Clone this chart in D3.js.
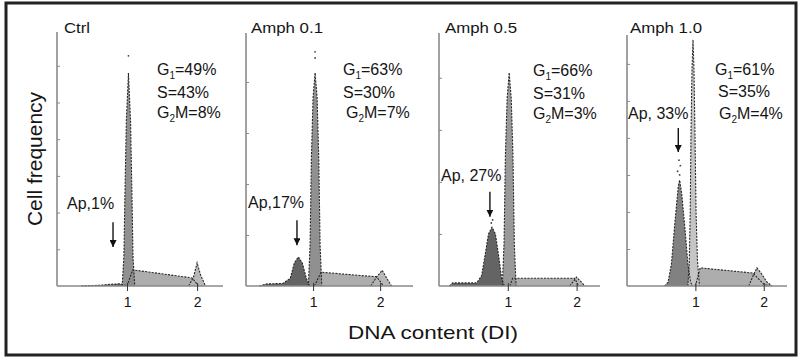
<!DOCTYPE html>
<html><head><meta charset="utf-8">
<script src="https://cdn.jsdelivr.net/npm/d3@7"></script>
<style>
body{margin:0;background:#fff}
svg{display:block}
text{font-family:"Liberation Sans",Arial,Helvetica,sans-serif;fill:#151515}
</style>
</head><body><svg id="c" width="800" height="360"></svg>
<script>
// ---------- data ----------
const panelTitles = ["Ctrl", "Amph 0.1", "Amph 0.5", "Amph 1.0"];
const g1Pct  = [49, 63, 66, 61];
const sPct   = [43, 30, 31, 35];
const g2mPct = [8, 7, 3, 4];
const apLabels = ["Ap,1%", "Ap,17%", "Ap, 27%", "Ap, 33%"];
const xTickValues = [1, 2];
const yTickStep = 100;
const yMaxes = [692, 496, 486, 678];
const xMaxes = [2.37, 2.49, 2.34, 2.34];

// histogram components: [DNA index, count]
const ctrlAp  = [[0.35,0],[0.6,2],[0.8,5],[0.9,6],[0.97,2],[1.0,0]];
const ctrlG1  = [[0.93,0],[0.955,80],[0.97,250],[0.99,450],[1.02,580],[1.05,450],[1.07,250],[1.085,80],[1.11,0]];
const ctrlS   = [[1.0,0],[1.08,44],[1.93,22],[2.02,0]];
const ctrlG2M = [[1.88,0],[1.95,25],[2.0,63],[2.05,30],[2.12,0]];
const ctrlDots = [[1.02,627]];

const a01Ap  = [[0.2,0],[0.3,4],[0.55,5],[0.66,15],[0.72,45],[0.78,57],[0.84,45],[0.9,15],[0.95,0]];
const a01G1  = [[0.93,0],[0.955,80],[0.975,250],[1.0,370],[1.03,418],[1.06,370],[1.085,250],[1.105,80],[1.13,0]];
const a01S   = [[1.02,0],[1.12,27],[1.95,18],[2.05,0]];
const a01G2M = [[1.86,0],[1.95,18],[2.03,31],[2.1,15],[2.17,0]];
const a01Dots = [[1.03,459],[1.03,447]];

const a05Ap  = [[0.15,0],[0.2,6],[0.55,6],[0.62,20],[0.67,60],[0.72,100],[0.77,113],[0.82,100],[0.87,55],[0.91,15],[0.95,0]];
const a05G1  = [[0.92,0],[0.945,80],[0.965,250],[0.99,360],[1.02,410],[1.05,360],[1.075,250],[1.095,80],[1.12,0]];
const a05S   = [[1.03,0],[1.07,15],[1.97,15],[2.03,0]];
const a05G2M = [[1.9,0],[1.96,10],[2.0,17],[2.05,10],[2.12,0]];
const a05Dots = [[0.78,127],[0.76,121]];

const a10Ap  = [[0.55,0],[0.6,10],[0.65,60],[0.7,170],[0.75,270],[0.77,286],[0.8,250],[0.85,150],[0.89,60],[0.93,10],[0.96,0]];
const a10G1  = [[0.89,0],[0.91,60],[0.925,200],[0.935,400],[0.95,580],[0.965,665],[0.98,580],[0.995,400],[1.01,200],[1.03,70],[1.06,0]];
const a10S   = [[1.0,0],[1.07,49],[1.84,35],[2.0,5],[2.08,0]];
const a10G2M = [[1.78,0],[1.85,30],[1.9,49],[1.96,35],[2.05,10],[2.12,0]];
const a10Dots = [[0.76,340],[0.78,325],[0.74,310],[0.77,300]];

// arrows: [DNA index, tail count, tip count]
const apArrows = [[0.80,174,106],[0.76,129,80],[0.74,181,133],[0.75,427,362]];

const panelData = [
  {ap: ctrlAp, g1: ctrlG1, s: ctrlS, g2m: ctrlG2M, dots: ctrlDots},
  {ap: a01Ap,  g1: a01G1,  s: a01S,  g2m: a01G2M,  dots: a01Dots},
  {ap: a05Ap,  g1: a05G1,  s: a05S,  g2m: a05G2M,  dots: a05Dots},
  {ap: a10Ap,  g1: a10G1,  s: a10S,  g2m: a10G2M,  dots: a10Dots}
];

// ---------- layout ----------
const boxes = [
  {l:57,  r:223, t:32, b:286, title:[64,33],  stats:[[157,75],[157,98],[157,118]], ap:[67,209]},
  {l:246, r:413, t:33, b:286, title:[251,33], stats:[[343,75],[343,98],[346,118]], ap:[248,208]},
  {l:439, r:600, t:33, b:286, title:[445,33], stats:[[533,76],[533,99],[533,119]], ap:[441,181]},
  {l:627, r:787, t:35, b:286, title:[630,33], stats:[[715,75],[718,97],[719,119]], ap:[628,119]}
];
const colAp = ["#5c5c5c","#5c5c5c","#5c5c5c","#7a7a7a"];
const colG1 = ["#8a8a8a","#8a8a8a","#939393","#c2c2c2"];
const colS = "#a9a9a9", colG2M = "#b4b4b4";

const svg = d3.select("#c");
svg.append("rect").attr("x",0).attr("y",0).attr("width",800).attr("height",360).attr("fill","#fff");
svg.append("rect").attr("x",6).attr("y",3).attr("width",790).attr("height",352)
   .attr("fill","none").attr("stroke","#222").attr("stroke-width",3);

const defs = svg.append("defs");
defs.append("marker").attr("id","ah").attr("viewBox","0 0 10 10").attr("refX",10).attr("refY",5)
  .attr("markerWidth",7).attr("markerHeight",7).attr("markerUnits","userSpaceOnUse").attr("orient","auto")
  .append("path").attr("d","M0,0L10,5L0,10z").attr("fill","#111");

boxes.forEach((bx, i) => {
  const d = panelData[i];
  const x = d3.scaleLinear().domain([0, xMaxes[i]]).range([bx.l, bx.r]);
  const y = d3.scaleLinear().domain([0, yMaxes[i]]).range([bx.b, bx.t]);
  const g = svg.append("g");
  const area = d3.area().x(p => x(p[0])).y0(y(0)).y1(p => y(p[1]));
  const line = d3.line().x(p => x(p[0])).y(p => y(p[1]));

  const comps = [
    [d.s, colS], [d.g2m, colG2M], [d.ap, colAp[i]], [d.g1, colG1[i]]
  ];
  comps.forEach(([arr, col]) => {
    g.append("path").datum(arr).attr("d", area).attr("fill", col).attr("fill-opacity", 0.95);
  });
  comps.forEach(([arr]) => {
    g.append("path").datum(arr).attr("d", line).attr("fill","none")
      .attr("stroke","#262626").attr("stroke-width",1.1).attr("stroke-dasharray","2,1.3");
  });
  g.selectAll("circle.dot").data(d.dots).join("circle").attr("class","dot")
    .attr("cx", p => x(p[0])).attr("cy", p => y(p[1])).attr("r", 0.9).attr("fill","#444");

  // axes
  const yAxis = d3.axisLeft(y).tickValues(d3.range(yTickStep, yMaxes[i], yTickStep))
    .tickSize(-3).tickFormat("");
  const ya = g.append("g").attr("transform", `translate(${bx.l},0)`).call(yAxis);
  ya.select(".domain").attr("stroke","#8a8a8a").attr("stroke-width",1.6).attr("d", `M0,${bx.b}V${bx.t}`);
  ya.selectAll(".tick line").attr("stroke","#8a8a8a");

  const xAxis = d3.axisBottom(x).tickValues(xTickValues).tickSize(5).tickPadding(6).tickFormat(d3.format("d"));
  const xa = g.append("g").attr("transform", `translate(0,${bx.b})`).call(xAxis);
  xa.select(".domain").attr("stroke","#8a8a8a").attr("stroke-width",1.6).attr("d", `M${bx.l},0H${bx.r}`);
  xa.selectAll(".tick line").attr("stroke","#333").attr("y1",-3);
  xa.selectAll(".tick text").attr("font-size",14).attr("fill","#151515")
    .style("font-family","'Liberation Sans',Arial,sans-serif");

  // title
  g.append("text").attr("x", bx.title[0]).attr("y", bx.title[1]).attr("font-size", 14)
    .attr("textLength", i === 0 ? 26 : 72).attr("lengthAdjust","spacingAndGlyphs")
    .text(panelTitles[i]);

  // stats
  const st = bx.stats;
  const t1 = g.append("text").attr("x", st[0][0]).attr("y", st[0][1]).attr("font-size", 16);
  t1.append("tspan").text("G");
  t1.append("tspan").attr("font-size", 10).attr("dy", 4).text("1");
  t1.append("tspan").attr("dy", -4).text("=" + g1Pct[i] + "%");
  g.append("text").attr("x", st[1][0]).attr("y", st[1][1]).attr("font-size", 16).text("S=" + sPct[i] + "%");
  const t3 = g.append("text").attr("x", st[2][0]).attr("y", st[2][1]).attr("font-size", 16);
  t3.append("tspan").text("G");
  t3.append("tspan").attr("font-size", 10).attr("dy", 4).text("2");
  t3.append("tspan").attr("dy", -4).text("M=" + g2mPct[i] + "%");

  // Ap label & arrow
  g.append("text").attr("x", bx.ap[0]).attr("y", bx.ap[1]).attr("font-size", 16).text(apLabels[i]);
  const a = apArrows[i];
  g.append("line").attr("x1", x(a[0])).attr("x2", x(a[0])).attr("y1", y(a[1])).attr("y2", y(a[2]))
    .attr("stroke","#111").attr("stroke-width",1.4).attr("marker-end","url(#ah)");
});

svg.append("text").attr("transform","translate(42,159) rotate(-90)").attr("text-anchor","middle")
  .attr("font-size", 21).text("Cell frequency");
svg.append("text").attr("x", 433).attr("y", 339).attr("text-anchor","middle")
  .attr("font-size", 19).attr("textLength", 170).attr("lengthAdjust","spacingAndGlyphs")
  .text("DNA content (DI)");
</script>
</body></html>
